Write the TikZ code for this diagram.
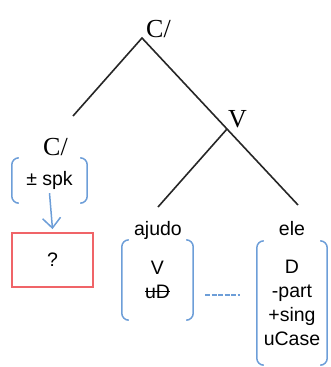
\documentclass[tikz,border=0pt]{standalone}
\usepackage{fontspec}
\setmainfont{Liberation Serif}
\setsansfont{Liberation Sans}
\usetikzlibrary{arrows.meta}
\definecolor{featblue}{RGB}{109,158,216}
\definecolor{boxred}{RGB}{240,100,104}
\tikzset{
  cat/.style={font=\fontsize{26}{28}\selectfont, inner sep=0pt, anchor=base west},
  word/.style={font=\sffamily\fontsize{19.5}{24}\selectfont, inner sep=0pt, anchor=base},
  feat/.style={font=\sffamily\fontsize{19.5}{24}\selectfont, align=center, inner sep=0pt},
  branch/.style={black!85, line width=1.6pt},
  brak/.style={featblue, line width=1.5pt, rounded corners=7pt},
}
% struck-out feature
\newcommand\strike[1]{\setbox0\hbox{#1}\rlap{\raisebox{0.33em}{\rule{\wd0}{0.07em}}}\box0}
% round brackets on both sides of a feature node
\newcommand\brackets[1]{%
  \draw[brak] ([xshift=7pt]#1.north west) -- (#1.north west) -- (#1.south west) -- ([xshift=7pt]#1.south west);
  \draw[brak] ([xshift=-7pt]#1.north east) -- (#1.north east) -- (#1.south east) -- ([xshift=-7pt]#1.south east);}
\begin{document}
\begin{tikzpicture}[x=1pt,y=-1pt]
\useasboundingbox (0,0) rectangle (330,367);
% tree
\coordinate (cp) at (142,38); \coordinate (c) at (73,116); \coordinate (v) at (227,129);
\coordinate (vleg) at (158,207); \coordinate (dleg) at (298,205);
\draw[branch] (c) -- (cp) -- (v) -- (dleg); \draw[branch] (v) -- (vleg);
\node[cat] (cpl) at (146,37) {C/};
\node[cat] (cl) at (43,155) {C/};
\node[cat] (vl) at (228,127) {V};
\node[word] (ajudo) at (158,235) {ajudo};
\node[word] (ele) at (292,235) {ele};
% feature bundles
\node[feat, minimum width=75, minimum height=45] (spk) at (49.5,180.5) {± spk};
\node[feat, minimum width=71, minimum height=80] (vf) at (157.5,280) {V\\\strike{uD}};
\node[feat, minimum width=70, minimum height=124] (df) at (292,303) {D\\-part\\+sing\\uCase};
\brackets{spk} \brackets{vf} \brackets{df}
\node[feat, draw=boxred, line width=1.8pt, minimum width=81, minimum height=54] (q) at (52.5,260) {?};
\draw[featblue, line width=1.5pt, -{Straight Barb[length=10pt,width=18pt]}] ([yshift=10pt]spk.south) -- ([yshift=3pt]q.north);
\draw[featblue, line width=1.3pt, dash pattern=on 5pt off 1.5pt] ([xshift=12pt,yshift=-15pt]vf.east) -- ([xshift=-17pt,yshift=-15pt]vf.east -| df.west);
\end{tikzpicture}
\end{document}
